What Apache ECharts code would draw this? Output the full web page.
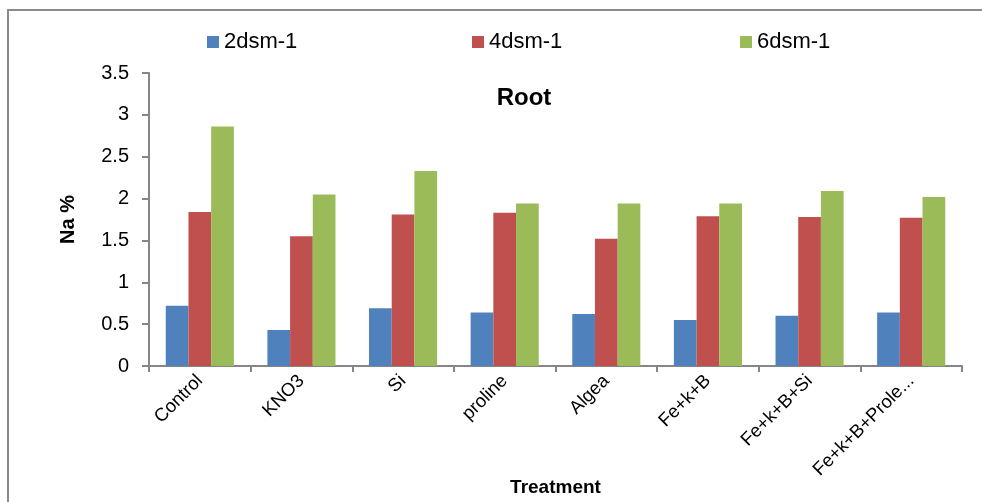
<!DOCTYPE html>
<html>
<head>
<meta charset="utf-8">
<script src="https://cdn.jsdelivr.net/npm/echarts@6/dist/echarts.min.js"></script>
<style>
html,body{margin:0;padding:0;background:#fff;}
#chart{width:982px;height:502px;}
</style>
</head>
<body>
<div id="chart"></div>
<script>
var categories = ["Control","KNO3","Si","proline","Algea","Fe+k+B","Fe+k+B+Si","Fe+k+B+Prole..."];
var series2 = [0.72,0.43,0.69,0.64,0.62,0.55,0.60,0.64];
var series4 = [1.84,1.55,1.81,1.83,1.52,1.79,1.78,1.77];
var series6 = [2.86,2.05,2.33,1.94,1.94,1.94,2.09,2.02];
var seriesNames = ["2dsm-1","4dsm-1","6dsm-1"];
var colors = ["#4F81BD","#C0504D","#9BBB59"];

var chart = echarts.init(document.getElementById('chart'));
var font = "'Liberation Sans', Arial, sans-serif";
function legendFor(i, left){
  return {
    data:[seriesNames[i]], left:left, top:26, itemWidth:12, itemHeight:12, itemGap:5,
    icon:'rect',
    textStyle:{fontFamily:font,fontSize:22,color:'#000',padding:[0,0,0,0]}
  };
}
chart.setOption({
  animation:false,
  backgroundColor:'#fff',
  color:colors,
  graphic:[{type:'rect',shape:{x:8,y:10,width:990,height:520},style:{fill:'none',stroke:'#8a8a8a',lineWidth:2}}],
  title:{text:'Root',left:519,top:81,textAlign:'center',textStyle:{fontFamily:font,fontSize:24,fontWeight:'bold',color:'#000'}},
  legend:[legendFor(0,202),legendFor(1,467),legendFor(2,735)],
  grid:{left:149,right:20,top:73,bottom:136,containLabel:false,outerBoundsMode:'none'},
  xAxis:{
    type:'category', data:categories,
    name:'Treatment', nameLocation:'middle', nameGap:112, nameMoveOverlap:false,
    nameTextStyle:{fontFamily:font,fontSize:19,fontWeight:'bold',color:'#000'},
    axisLine:{lineStyle:{color:'#868686',width:2}},
    axisTick:{show:true,length:6,lineStyle:{color:'#868686',width:2}},
    axisLabel:{rotate:45,margin:12,fontFamily:font,fontSize:18.5,color:'#000',interval:0}
  },
  yAxis:{
    type:'value', min:0, max:3.5, interval:0.5,
    name:'Na %', nameLocation:'middle', nameGap:71, nameRotate:90, nameMoveOverlap:false,
    nameTextStyle:{fontFamily:font,fontSize:20,fontWeight:'bold',color:'#000'},
    axisLine:{show:true,lineStyle:{color:'#868686',width:2}},
    axisTick:{show:true,length:7,lineStyle:{color:'#868686',width:2}},
    splitLine:{show:false},
    axisLabel:{margin:20,fontFamily:font,fontSize:20,color:'#000'}
  },
  series:[
    {name:seriesNames[0],type:'bar',data:series2,barGap:'0%',barCategoryGap:'33%'},
    {name:seriesNames[1],type:'bar',data:series4,barGap:'0%',barCategoryGap:'33%'},
    {name:seriesNames[2],type:'bar',data:series6,barGap:'0%',barCategoryGap:'33%'}
  ]
});
</script>
</body>
</html>
